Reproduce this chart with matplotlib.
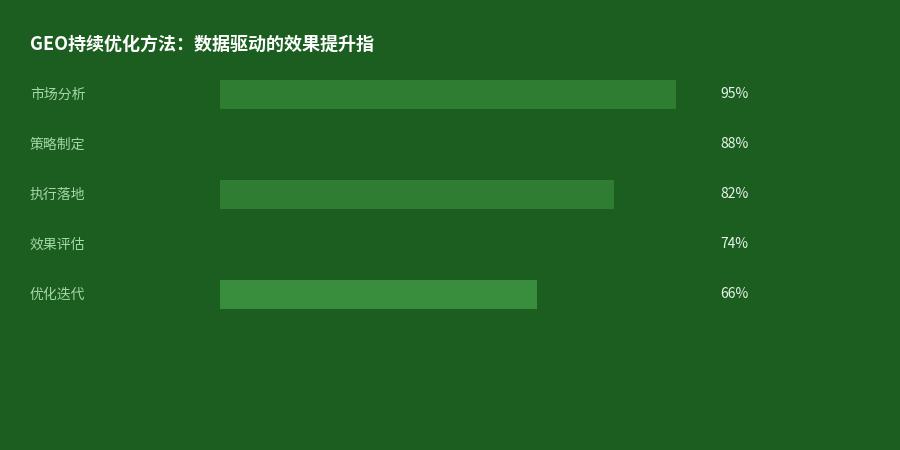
import matplotlib
matplotlib.use("Agg")
import matplotlib.pyplot as plt
from matplotlib.transforms import blended_transform_factory

plt.rcParams['font.family'] = ['Noto Sans CJK SC', 'DejaVu Sans']

# data
steps = ['市场分析', '策略制定', '执行落地', '效果评估', '优化迭代']
scores = [95, 88, 82, 74, 66]
bar_colors = ['#2e7d32', '#1b5e20', '#2e7d32', '#1b5e20', '#388e3c']
title = 'GEO持续优化方法：数据驱动的效果提升指'

bg = '#1b5e20'
W, H = 900, 450

fig = plt.figure(figsize=(9, 4.5), dpi=100, facecolor=bg)
# plot area in pixels: x 220..700, rows centred at 94..294
ax = fig.add_axes([220 / W, (H - 319.5) / H, 480 / W, 250 / H])
ax.set_facecolor(bg)

ypos = list(range(len(steps)))
ax.barh(ypos, scores, height=0.57, color=bar_colors, edgecolor='none')
ax.set_xlim(0, 100)
ax.set_ylim(len(steps) - 0.5, -0.5)
ax.axis('off')

tr = blended_transform_factory(fig.transFigure, ax.transData)
for i, (name, val) in enumerate(zip(steps, scores)):
    ax.text(30 / W, i, name, transform=tr, ha='left', va='center',
            fontsize=10, color='#a5d6a7')
    ax.text(720 / W, i, f'{val}%', transform=tr, ha='left', va='center',
            fontsize=10, color='#e8f5e9')

fig.text(30 / W, 1 - 44 / H, title, ha='left', va='center',
         fontsize=13, fontweight='bold', color='white')

fig.savefig('out.png', dpi=100, facecolor=bg)
